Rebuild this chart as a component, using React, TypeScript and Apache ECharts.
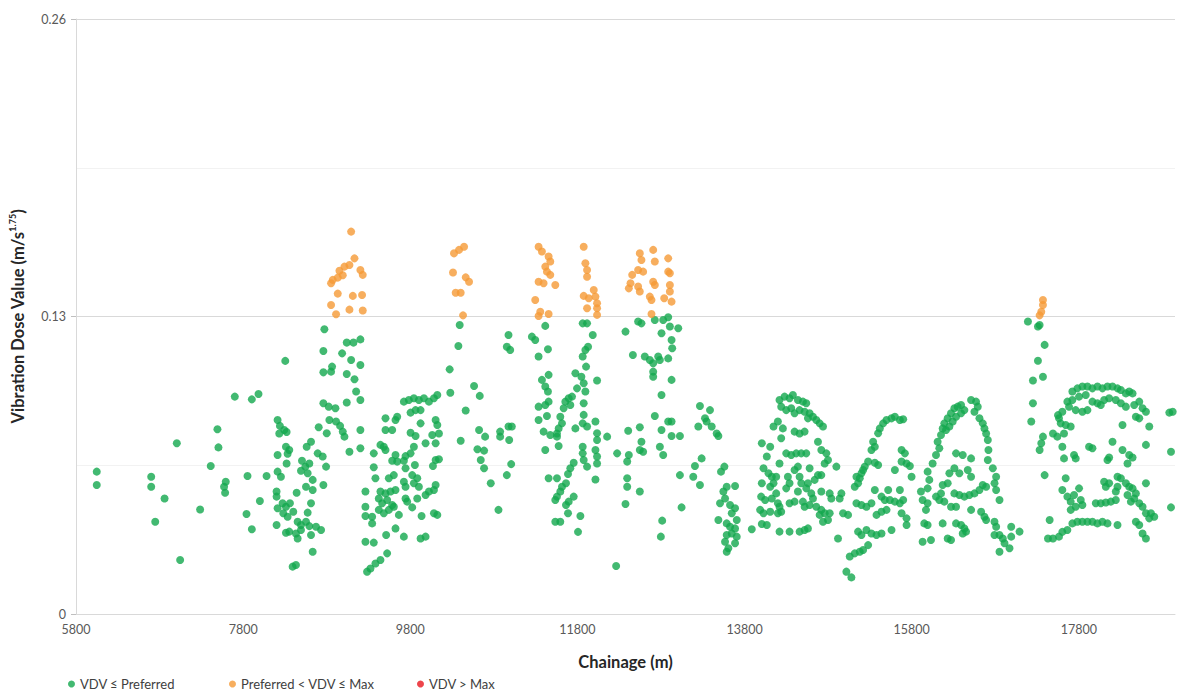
import React, { useEffect, useRef } from "react";
import * as echarts from "echarts";

// Chainage (m) axis ticks and VDV axis ticks
const chainageTicks = [5800, 7800, 9800, 11800, 13800, 15800, 17800];
const vdvTicks = [0, 0.13, 0.26];

// Measured VDV at or below the preferred value [chainage m, VDV m/s^1.75]
const vdvPreferred: [number, number][] = [
  [6048,0.0622],[6048,0.0564],[6700,0.0600],[6700,0.0556],[6860,0.0505],[6748,0.0403],[7006,0.0746],[7046,0.0236],[7285,0.0457],[7412,0.0647],[7492,0.0807],[7504,0.0728],
  [8772,0.1244],[8760,0.1149],[8864,0.1081],[8852,0.1059],[8760,0.1056],[8984,0.1139],[9040,0.1186],[9120,0.1186],[9092,0.111],[9040,0.1049],[9132,0.1026],[9152,0.0972],[9040,0.0924],[8760,0.0921],[8824,0.0906],[8904,0.0899],[8832,0.0848],[8912,0.0841],[8960,0.0822],[8992,0.0797],[9012,0.0775],[8704,0.0816],[8800,0.0790],[9072,0.0709],[8304,0.1106],[7700,0.095],[7904,0.0938],[7984,0.0961],
  [8212,0.0848],[8240,0.0822],[8292,0.0804],[8320,0.0795],[8232,0.0789],[8312,0.0731],[8352,0.0717],[8212,0.0695],[8332,0.070],[8320,0.0658],[8212,0.0622],[8252,0.0600],[8612,0.0753],[8560,0.0731],[8692,0.0702],[8752,0.0688],[8504,0.0670],[8544,0.0644],[8592,0.0658],[8492,0.0626],[8572,0.0615],[8632,0.0586],[8792,0.0644],[8760,0.0564],[8552,0.0556],[8632,0.0542],[8440,0.0530],[8200,0.0535],[8200,0.0513],[8272,0.0484],[8312,0.0469],[8360,0.0484],[8212,0.0462],[8280,0.044],[8332,0.0425],[8400,0.0447],[8572,0.0443],[8612,0.0484],[8452,0.0403],[8492,0.0389],[8552,0.0403],[8592,0.0384],[8672,0.0381],[8732,0.0367],[8200,0.0389],[8312,0.0355],[8352,0.0360],[8432,0.0352],[8452,0.0330],[8492,0.0367],[8612,0.0345],[8632,0.0272],[8392,0.0207],[8432,0.0214],[7852,0.0603],[8080,0.0603],[8000,0.0494],[7840,0.0437],[7904,0.0370],[7592,0.0578],[7572,0.0556],[7584,0.053],
  [10391,0.1263],[10375,0.1171],[10271,0.1069],[10279,0.0967],[10563,0.0996],[10631,0.0953],[10463,0.0889],[10403,0.0757],[10623,0.0804],[10695,0.0775],[10603,0.0720],[10683,0.0714],[10643,0.0673],[10683,0.0637],[10763,0.0571],
  [9203,0.1200],[9203,0.1088],[9203,0.0935],[9203,0.0804],[9203,0.0724],
  [9723,0.0928],[9783,0.0935],[9843,0.0943],[9903,0.0935],[9963,0.0943],[10023,0.0928],[10083,0.0943],[10123,0.0957],
  [9803,0.0880],[9863,0.0891],[9923,0.0891],[9503,0.0855],[9623,0.0848],[9643,0.0862],[9503,0.0804],[9583,0.0804],[9923,0.0833],[10103,0.0848],[10123,0.0826],[10143,0.0789],[9803,0.0792],[9863,0.0778],[10063,0.0782],[9983,0.0746],[10103,0.0746],[9443,0.0739],[9483,0.0731],[9503,0.0717],[9363,0.0702],[9843,0.0731],[9623,0.0695],[9743,0.0690],[9803,0.0702],[9643,0.0666],[9723,0.0670],[9583,0.0670],[10103,0.0673],[10143,0.0676],[10071,0.0647],[9855,0.0651],[9743,0.0637],[9363,0.0641],[9603,0.0607],[9543,0.0593],[9823,0.0607],[9883,0.0593],[9383,0.0593],[9723,0.0578],[9743,0.0556],[9843,0.0571],[9903,0.0556],[10103,0.0564],[10083,0.0542],[10023,0.0535],[9983,0.0520],[9263,0.0535],[9443,0.0535],[9503,0.0527],[9563,0.0535],[9623,0.0542],[9423,0.0505],[9463,0.0484],[9523,0.0498],[9583,0.0476],[9743,0.0505],[9763,0.0491],[9883,0.0505],[9423,0.0455],[9483,0.0440],[9543,0.0455],[9603,0.0469],[9663,0.0433],[9823,0.0466],[9263,0.0469],[9263,0.0428],[9343,0.0425],[9343,0.0396],[10083,0.0440],[10123,0.0433],[9935,0.0428],[9623,0.0374],[9723,0.0338],[9511,0.0345],[9263,0.0316],[9363,0.0312],[9923,0.0330],[9983,0.0338],[9523,0.0265],[9443,0.0236],[9383,0.0221],[9323,0.0199],[9283,0.0185],
  [10975,0.1219],[10995,0.1154],[10955,0.1168],[11255,0.1212],[11295,0.1197],[11415,0.1259],[11335,0.1125],[11447,0.1157],[11455,0.1045],[11375,0.1023],[11415,0.0994],[11447,0.0972],[11455,0.0928],[11415,0.0913],[11335,0.0906],[11335,0.0848],[11435,0.0865],[11395,0.0797],[11475,0.0782],[11555,0.0775],[11575,0.0734],[11415,0.0717],[11655,0.0928],[11695,0.0943],[11715,0.0913],[11635,0.0899],[11595,0.0862],[11615,0.0833],[11575,0.0811],[11555,0.0789],[11735,0.0950],[11795,0.0986],[11775,0.1052],[11847,0.1037],[11875,0.1008],[11895,0.0972],[11863,0.1125],[11895,0.1154],[11903,0.1081],[11927,0.1168],[11863,0.1270],[11915,0.1270],[11983,0.1219],[12035,0.1020],[11875,0.0921],[11875,0.0870],[11915,0.0819],[11863,0.0833],[11775,0.0811],[12015,0.0841],[12035,0.0790],[12035,0.0760],[12155,0.0775],[11863,0.0731],[11863,0.0702],[11875,0.0673],[11915,0.0644],[12015,0.0717],[12035,0.0688],[12035,0.0658],[12015,0.0588],[11755,0.0661],[11715,0.0637],[11687,0.0612],[11663,0.0571],[11615,0.0556],[11595,0.0535],[11555,0.0513],[11535,0.0498],[11455,0.0593],[11555,0.0593],[11755,0.0513],[11695,0.0491],[11663,0.0476],[11687,0.0440],[11835,0.0428],[11535,0.0403],[11595,0.0403],[11807,0.0359],[10975,0.0819],[11015,0.0819],[10875,0.0797],[10875,0.0775],[10983,0.0760],[11007,0.0655],[10955,0.0607],[10855,0.0455],[12263,0.0210],[12375,0.1234],[12463,0.1132],[12407,0.0801],[12275,0.0702],[12415,0.0695],[12395,0.0666],[12395,0.0593],[12395,0.0556],[12375,0.0481],
  [12526,0.1278],[12566,0.1270],[12726,0.1285],[12826,0.1285],[12886,0.1297],[12906,0.1256],[12806,0.1227],[13006,0.1249],[12926,0.1197],[12934,0.1161],[12886,0.1117],[12606,0.1125],[12666,0.1110],[12706,0.1096],[12766,0.1125],[12786,0.1110],[12706,0.1059],[12706,0.1037],[12926,0.1023],[12806,0.0957],[12726,0.0865],[12806,0.0804],[12886,0.0841],[12926,0.0841],[12926,0.0778],[13026,0.0778],[12546,0.0816],[12566,0.0753],[12546,0.0717],[12586,0.0709],[12786,0.0731],[12826,0.0695],[12546,0.0535],[13026,0.0607],[13046,0.0466],[12814,0.0408],[12798,0.0338],
  [13266,0.0909],[13386,0.0891],[13326,0.0855],[13346,0.0841],[13246,0.0819],[13406,0.0819],[13466,0.0789],[13486,0.0778],[13286,0.0680],[13206,0.0647],[13186,0.0600],[13266,0.0564],[13558,0.0644],[13518,0.0622],[13586,0.0556],[13546,0.0535],[13686,0.0559],[13506,0.0484],[13486,0.0411],[13566,0.0505],[13626,0.0476],[13686,0.0462],[13646,0.0440],[13586,0.0396],[13626,0.0381],[13686,0.0374],[13646,0.0352],[13586,0.0345],[13706,0.0338],[13566,0.0316],[13686,0.0309],[13606,0.0287],[13586,0.0272],[13706,0.0411],[13886,0.0370],[14006,0.0393],[14066,0.0389],[14006,0.0746],[14106,0.0731],[14066,0.0688],[14026,0.0637],[14086,0.0615],[14126,0.0600],[14006,0.0571],[14106,0.0556],[14146,0.0571],[13998,0.0513],[14046,0.0498],[14126,0.0505],[13986,0.0455],[14026,0.0440],[14106,0.0447],[14146,0.0819],
  [14218,0.0935],[14278,0.0950],[14338,0.0943],[14378,0.0957],[14438,0.0935],[14498,0.0928],[14538,0.0921],[14578,0.0877],[14618,0.0862],[14658,0.0848],[14698,0.0833],[14738,0.0819],
  [14238,0.0906],[14298,0.0891],[14358,0.0899],[14398,0.0877],[14458,0.0891],[14518,0.0884],[14558,0.0855],[14198,0.0841],[14258,0.0811],[14238,0.0768],[14398,0.0797],[14458,0.0789],[14518,0.0797],
  [14678,0.0753],[14718,0.0717],[14778,0.0702],[14798,0.0673],[14758,0.0658],[14298,0.0702],[14358,0.0695],[14418,0.0702],[14478,0.0702],[14538,0.0702],[14218,0.0658],[14438,0.0644],[14398,0.0629],[14578,0.0637],[14678,0.0607],[14718,0.0607],[14638,0.0586],[14898,0.0644],[14178,0.0600],
  [14318,0.0600],[14338,0.0571],[14298,0.0549],[14458,0.0600],[14478,0.0571],[14438,0.0535],[14558,0.0571],[14538,0.0549],[14598,0.0527],[14618,0.0505],[14718,0.0535],[14818,0.0527],[14838,0.0505],[14958,0.0527],[14938,0.0505],[14178,0.0527],[14198,0.0484],[14218,0.0469],[14338,0.0484],[14398,0.0491],[14498,0.0491],[14518,0.0469],[14578,0.0476],[14658,0.0469],[14718,0.0455],[14758,0.0440],[14698,0.0433],[14198,0.0440],[14238,0.0447],[14818,0.0440],[14798,0.0411],[14738,0.0403],[14978,0.0440],[15038,0.0433],[14218,0.0360],[14338,0.0360],[14458,0.0360],[14518,0.0367],[14558,0.0374],[14918,0.0330],
  [15058,0.0251],[15118,0.0265],[15178,0.0272],[15218,0.0280],[15278,0.0301],[15018,0.0185],[15078,0.0160],[15158,0.0360],[15198,0.0345],[15258,0.0367],[15318,0.0352],[15378,0.0345],[15438,0.0352],[15558,0.0367],[15138,0.0484],[15198,0.0476],[15258,0.0469],[15318,0.0484],[15378,0.0433],[15438,0.0447],[15498,0.0455],
  [15358,0.0542],[15438,0.0513],[15478,0.0498],[15538,0.0498],[15598,0.0491],[15658,0.0484],[15698,0.0498],[15518,0.0542],[15658,0.0542],[15678,0.0440],[15738,0.0418],[15738,0.0389],[15118,0.0556],[15158,0.0571],[15178,0.0593],[15198,0.0615],[15218,0.0629],[15238,0.0644],[15138,0.0600],[15278,0.0666],[15318,0.0717],[15358,0.0731],[15338,0.0753],
  [15398,0.0790],[15418,0.0811],[15458,0.0833],[15498,0.0848],[15558,0.0855],[15598,0.0862],[15658,0.0848],[15698,0.0851],[15358,0.0661],[15398,0.0651],[15678,0.0717],[15718,0.0702],[15678,0.0666],[15738,0.0658],[15778,0.0647],[15598,0.0629],[15798,0.0600],
  [15910,0.0535],[15990,0.0549],[16010,0.0586],[15990,0.0622],[16050,0.0658],[16090,0.0695],[16130,0.0724],[16110,0.0753],[16150,0.0782],[16170,0.0811],[16190,0.0833],[16230,0.0855],[16270,0.0877],[16310,0.0899],[16350,0.0906],[16210,0.0804],[16250,0.0819],[16290,0.0841],[16330,0.0862],[16390,0.0877],[16430,0.0891],[16390,0.0913],[16510,0.0935],[16570,0.0928],[16590,0.0906],[16550,0.0884],
  [16610,0.0855],[16650,0.0833],[16670,0.0811],[16690,0.0789],[16710,0.0760],[16718,0.0717],[16710,0.0673],[16770,0.0637],[16810,0.0600],[16790,0.0571],[16810,0.0542],[16850,0.0498],[16330,0.0702],[16410,0.0695],[16510,0.0680],[16250,0.0615],[16310,0.0637],[16370,0.0615],[16470,0.0629],[16510,0.0600],[16230,0.0571],
  [16310,0.0527],[16370,0.0520],[16430,0.0513],[16490,0.0520],[16550,0.0527],[16610,0.0542],[16650,0.0564],[16690,0.0556],[16170,0.0564],[16150,0.0527],[16090,0.0513],[16130,0.0498],[16190,0.0491],[16270,0.0469],[16330,0.0469],[15930,0.0498],[15990,0.0484],[15970,0.0455],[16510,0.0455],[16630,0.0447],[16670,0.0425],[16690,0.0411],[16790,0.0403],[16810,0.0381],[15950,0.0396],[15990,0.0389],[16170,0.0396],[16330,0.0396],[16390,0.0389],[16430,0.0374],[16450,0.0360],[16410,0.0352],[15930,0.0316],[16030,0.0323],[16230,0.0330],[16270,0.0323],
  [16790,0.0345],[16850,0.0345],[16890,0.0330],[16910,0.0309],[16850,0.0272],[16970,0.0287],[16990,0.0381],[16990,0.0338],[17090,0.0360],
  [17190,0.1278],[17310,0.1256],[17330,0.1263],[17390,0.1176],[17310,0.1107],[17370,0.1037],[17250,0.1020],[17250,0.0921],[17230,0.0841],[17370,0.0775],[17350,0.0746],[17330,0.0717],[17390,0.0607],[17450,0.0411],[17490,0.0330],[17430,0.0330],[17490,0.0789],[17550,0.0869],
  [17722,0.0972],[17782,0.0986],[17842,0.0994],[17902,0.0994],[17962,0.0986],[18022,0.0994],[18082,0.0986],[18142,0.0994],[18202,0.0994],[18262,0.0986],[18302,0.0979],[18362,0.0964],[18402,0.0972],[18442,0.0964],
  [17662,0.0928],[17722,0.0935],[17802,0.0950],[17882,0.0957],[17962,0.0928],[18022,0.0921],[18102,0.0935],[18162,0.0943],[18242,0.0935],
  [17602,0.0884],[17682,0.0906],[17762,0.0891],[17842,0.0884],[17902,0.0891],[18062,0.0913],[18302,0.0921],[18362,0.0906],[18462,0.0913],[18522,0.0928],[18562,0.0899],
  [17562,0.0855],[17582,0.0833],[17642,0.0826],[17702,0.0819],[17542,0.0775],[17622,0.0789],[18482,0.0862],[18522,0.0855],[18602,0.0884],[18882,0.0880],[18922,0.0884],[18322,0.0826],[18642,0.0819],
  [17602,0.0731],[17622,0.0680],[17742,0.0695],[17762,0.0680],[17922,0.0731],[17962,0.0724],[18202,0.0753],[18162,0.0684],[18142,0.0673],[18322,0.0717],[18402,0.0695],[18442,0.0684],[18382,0.0658],[18602,0.0739],[18902,0.0709],
  [17642,0.0593],[17602,0.0542],[17662,0.0513],[17702,0.0491],[17762,0.0469],[17702,0.0455],[17802,0.0549],[17742,0.0520],[17822,0.0498],[17842,0.0476],[18002,0.0484],[18062,0.0484],[18122,0.0487],[18182,0.0491],[18242,0.0498],[18122,0.0556],[18102,0.0578],[18162,0.0571],
  [18262,0.0600],[18302,0.0593],[18362,0.0571],[18402,0.0556],[18442,0.0549],[18482,0.0527],[18262,0.0556],[18242,0.0535],[18382,0.0520],[18422,0.0491],[18462,0.0505],[18522,0.0484],[18562,0.0469],[18602,0.0571],[18602,0.0440],[18662,0.0440],[18702,0.0425],[18642,0.0418],[18902,0.0466],
  [17602,0.0359],[17662,0.0367],[17722,0.0396],[17782,0.0403],[17842,0.0403],[17902,0.0403],[17962,0.0403],[18022,0.0396],[18082,0.0403],[18142,0.0396],[17562,0.0338],[18262,0.0389],[18482,0.0403],[18522,0.0389],[18562,0.0352],[18602,0.0330],
];

// Measured VDV above the preferred value but within the maximum
const vdvAbovePreferred: [number, number][] = [
  [9092,0.1671],[9132,0.1554],[8952,0.150],[9012,0.1518],[9072,0.1525],[8872,0.146],[8932,0.147],[8992,0.148],[8852,0.1445],[8932,0.140],[9112,0.139],[8852,0.135],[8912,0.131],[9072,0.133],
  [9203,0.1503],[9231,0.1482],[9223,0.1394],[9231,0.1326],[10323,0.1576],[10383,0.1591],[10443,0.1605],[10311,0.1492],[10463,0.1471],[10503,0.1452],[10343,0.1404],[10403,0.1404],[10431,0.1305],
  [11335,0.1605],[11375,0.1584],[11455,0.1562],[11475,0.1540],[11415,0.1518],[11435,0.1496],[11475,0.1482],[11335,0.1452],[11395,0.1445],[11535,0.1438],[11295,0.1372],[11355,0.1321],[11335,0.1302],[11455,0.1311],
  [11875,0.1605],[11895,0.1533],[11915,0.1503],[11915,0.1474],[11995,0.1416],[11875,0.1390],[11935,0.1380],[12015,0.1387],[12035,0.1358],[12035,0.1336],[12035,0.1307],[11915,0.1336],[12455,0.1482],[12435,0.1445],[12415,0.1423],
  [12546,0.1576],[12566,0.1547],[12526,0.1503],[12586,0.1496],[12526,0.1431],[12546,0.1409],[12706,0.1591],[12726,0.1540],[12706,0.1452],[12726,0.1438],[12666,0.1387],[12686,0.1372],[12886,0.1554],[12886,0.1496],[12906,0.1489],[12906,0.1438],[12906,0.1409],[12926,0.1365],[12838,0.1380],[12686,0.1311],
  [17370,0.1372],[17370,0.1350],[17350,0.1321],[17330,0.1305],
];

// Measured VDV above the maximum value (none recorded)
const vdvAboveMax: [number, number][] = [];

const seriesNames = ["VDV \u2264 Preferred", "Preferred < VDV \u2264 Max", "VDV > Max"];
const seriesColors = ["#13A84D", "#F59A36", "#E8161E"];
const legendLefts = [68, 229, 417];

const FONT = "Lato, 'Open Sans', sans-serif";

export default function App() {
  const ref = useRef<HTMLDivElement>(null);

  useEffect(() => {
    if (!ref.current) return;
    const chart = echarts.init(ref.current, null, { renderer: "svg" });
    const datasets = [vdvPreferred, vdvAbovePreferred, vdvAboveMax];
    chart.setOption({
      animation: false,
      backgroundColor: "#ffffff",
      textStyle: { fontFamily: FONT },
      grid: { left: 75, right: 4, top: 19, bottom: 81 },
      legend: seriesNames.map((name, i) => ({
        left: legendLefts[i],
        top: 676,
        padding: 0,
        icon: "circle",
        itemWidth: 7,
        itemHeight: 7,
        itemGap: 0,
        textStyle: { fontSize: 13, color: "#404040", fontFamily: FONT, lineHeight: 16 },
        data: [name],
      })),
      xAxis: {
        type: "value",
        min: 5800,
        max: 18950,
        name: "Chainage (m)",
        nameLocation: "middle",
        nameGap: 39,
        nameTextStyle: { fontSize: 16.5, fontWeight: "bold", color: "#262626", fontFamily: FONT },
        axisLine: { show: true, lineStyle: { color: "#d9d9d9", width: 1 } },
        axisTick: { show: false },
        splitLine: { show: false },
        axisLabel: {
          customValues: chainageTicks,
          color: "#595959",
          fontSize: 12.5,
          margin: 9,
          fontFamily: FONT,
          formatter: (v: number) => String(Math.round(v)),
        },
      },
      yAxis: {
        type: "value",
        min: 0,
        max: 0.26,
        interval: 0.13,
        name: "Vibration Dose Value (m/s{sup|1.75})",
        nameLocation: "middle",
        nameGap: 48,
        nameTextStyle: {
          fontSize: 16.5,
          fontWeight: "bold",
          color: "#262626",
          fontFamily: FONT,
          lineHeight: 20,
          rich: {
            sup: { fontSize: 9, fontWeight: "bold", color: "#262626", verticalAlign: "top", lineHeight: 20, fontFamily: FONT },
          },
        },
        axisLine: { show: true, lineStyle: { color: "#d9d9d9", width: 1 } },
        axisTick: { show: true, length: 5, lineStyle: { color: "#bfbfbf" } },
        axisLabel: {
          color: "#595959",
          fontSize: 12.5,
          margin: 10,
          fontFamily: FONT,
          formatter: (v: number) => (vdvTicks.includes(+v.toFixed(2)) ? String(+v.toFixed(2)) : ""),
        },
        splitLine: { show: true, lineStyle: { color: "#d9d9d9", width: 1 } },
        minorTick: { show: false, splitNumber: 2 },
        minorSplitLine: { show: true, lineStyle: { color: "#f2f2f2", width: 1 } },
      },
      series: datasets.map((d, i) => ({
        name: seriesNames[i],
        type: "scatter",
        symbol: "circle",
        symbolSize: 8,
        itemStyle: { color: seriesColors[i] },
        data: d,
      })),
    });
    return () => chart.dispose();
  }, []);

  return (
    <div
      ref={ref}
      style={{ position: "absolute", left: 0, top: 0, width: 1179, height: 695 }}
    />
  );
}
